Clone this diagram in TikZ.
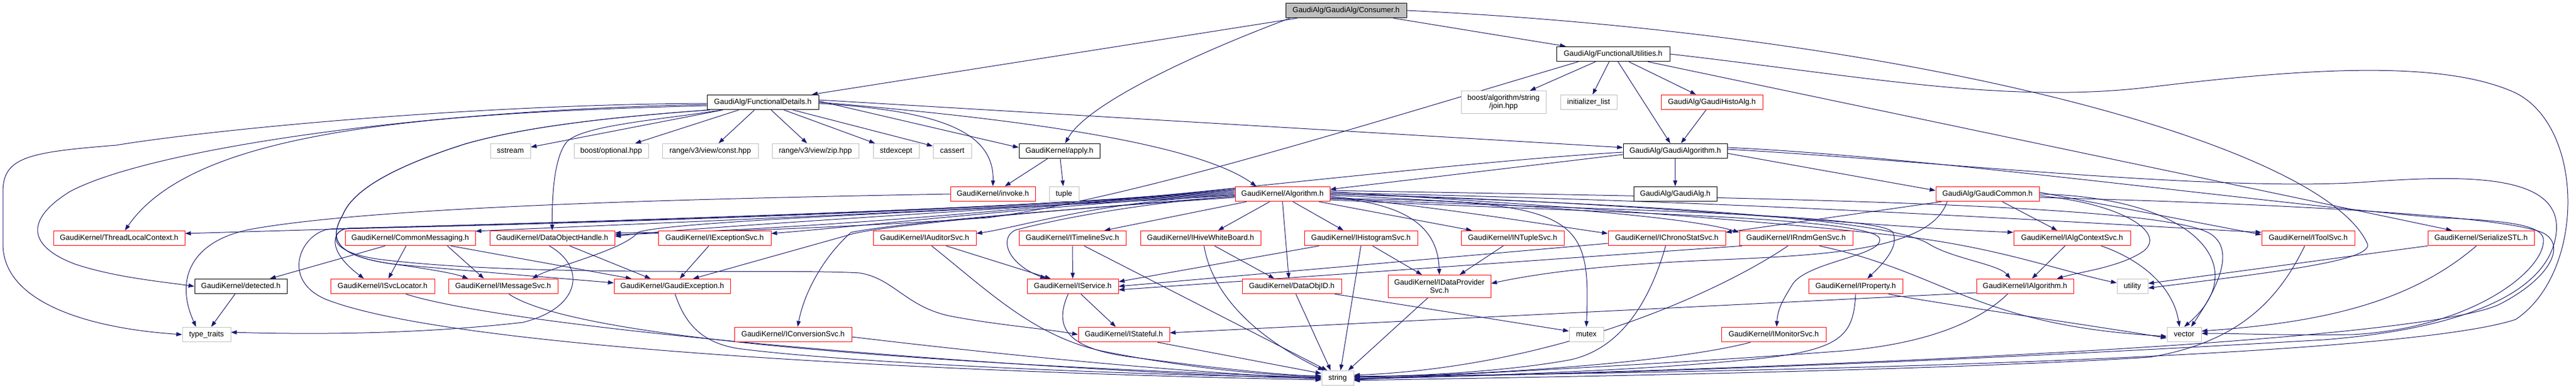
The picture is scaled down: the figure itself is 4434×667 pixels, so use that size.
\documentclass[tikz,border=0pt]{standalone}
\usepackage{fontspec}
\setmainfont{Liberation Sans}
\usetikzlibrary{arrows.meta}
\definecolor{navy}{HTML}{191970}
\definecolor{greyb}{HTML}{BFBFBF}
\definecolor{redb}{HTML}{FF0000}
\pgfdeclarelayer{bg}
\pgfsetlayers{bg,main}
\newcommand\mynode[6]{\node[#2,minimum width=#5pt] (#1) at (#3,#4) {#6};}
\begin{document}
\begin{tikzpicture}[x=1pt,y=-1pt,
  bx/.style={draw,fill=white,line width=1pt,inner sep=0pt,minimum height=25.6pt,font=\fontsize{13}{14}\selectfont,text height=9.5pt,text depth=2.7pt},
  bxx/.style={draw,fill=white,line width=1pt,inner sep=0pt,minimum height=39pt,font=\fontsize{13}{14}\selectfont,align=center},
  kbox/.style={bx,draw=black},
  cbox/.style={bx,draw=black,fill=greyb},
  rbox/.style={bx,draw=redb},
  gbox/.style={bx,draw=greyb},
  edg/.style={draw=navy,line width=1pt,-{Triangle[length=10pt,width=7pt]}},
]
\useasboundingbox (0,0) rectangle (4434,667);
% row 0-1
\mynode{consumer}{cbox}{2317}{18}{208}{GaudiAlg/GaudiAlg/Consumer.h}
\mynode{futil}{kbox}{2776.5}{93}{195}{GaudiAlg/FunctionalUtilities.h}
% row 2
\mynode{fdet}{kbox}{1313}{176}{192}{GaudiAlg/FunctionalDetails.h}
\node[bxx,draw=greyb,minimum width=146pt] (join) at (2588,176) {boost/algorithm/string\\/join.hpp};
\mynode{initl}{gbox}{2734.5}{176}{97}{initializer\_list}
\mynode{histo}{rbox}{2946.5}{176}{175}{GaudiAlg/GaudiHistoAlg.h}
% row 3
\mynode{sstream}{gbox}{878.5}{260}{69}{sstream}
\mynode{optional}{gbox}{1052}{260}{128}{boost/optional.hpp}
\mynode{rconst}{gbox}{1222.5}{260}{165}{range/v3/view/const.hpp}
\mynode{rzip}{gbox}{1403.5}{260}{149}{range/v3/view/zip.hpp}
\mynode{stdexcept}{gbox}{1542.5}{260}{79}{stdexcept}
\mynode{cassert}{gbox}{1639}{260}{66}{cassert}
\mynode{apply}{kbox}{1823.5}{260}{139}{GaudiKernel/apply.h}
\mynode{galgo}{kbox}{2883.5}{260}{179}{GaudiAlg/GaudiAlgorithm.h}
% row 4
\mynode{invoke}{rbox}{1709}{334}{146}{GaudiKernel/invoke.h}
\mynode{tuple}{gbox}{1831.5}{334}{51}{tuple}
\mynode{algorithm}{rbox}{2207.5}{334}{163}{GaudiKernel/Algorithm.h}
\mynode{galg}{kbox}{2883.5}{334}{143}{GaudiAlg/GaudiAlg.h}
\mynode{gcommon}{rbox}{3421}{334}{178}{GaudiAlg/GaudiCommon.h}
% row 5
\mynode{tlc}{rbox}{205}{410}{226}{GaudiKernel/ThreadLocalContext.h}
\mynode{cmsg}{rbox}{706}{410}{224}{GaudiKernel/CommonMessaging.h}
\mynode{doh}{rbox}{950.5}{410}{215}{GaudiKernel/DataObjectHandle.h}
\mynode{iexc}{rbox}{1230}{410}{194}{GaudiKernel/IExceptionSvc.h}
\mynode{iaud}{rbox}{1591.5}{410}{177}{GaudiKernel/IAuditorSvc.h}
\mynode{itime}{rbox}{1846}{410}{184}{GaudiKernel/ITimelineSvc.h}
\mynode{ihive}{rbox}{2066.5}{410}{207}{GaudiKernel/IHiveWhiteBoard.h}
\mynode{ihist}{rbox}{2342.5}{410}{195}{GaudiKernel/IHistogramSvc.h}
\mynode{intuple}{rbox}{2603.5}{410}{177}{GaudiKernel/INTupleSvc.h}
\mynode{ichrono}{rbox}{2869}{410}{202}{GaudiKernel/IChronoStatSvc.h}
\mynode{irndm}{rbox}{3091.5}{410}{195}{GaudiKernel/IRndmGenSvc.h}
\mynode{ialgctx}{rbox}{3566.5}{410}{201}{GaudiKernel/IAlgContextSvc.h}
\mynode{itool}{rbox}{3973}{410}{160}{GaudiKernel/IToolSvc.h}
\mynode{serial}{rbox}{4270.5}{410}{183}{GaudiKernel/SerializeSTL.h}
% row 6
\mynode{detected}{kbox}{414.5}{493}{159}{GaudiKernel/detected.h}
\mynode{isvcloc}{rbox}{658.5}{493}{179}{GaudiKernel/ISvcLocator.h}
\mynode{imsg}{rbox}{866}{493}{188}{GaudiKernel/IMessageSvc.h}
\mynode{gexc}{rbox}{1157}{493}{200}{GaudiKernel/GaudiException.h}
\mynode{iservice}{rbox}{1846.5}{493}{157}{GaudiKernel/IService.h}
\mynode{dataobjid}{rbox}{2223.5}{493}{171}{GaudiKernel/DataObjID.h}
\node[bxx,draw=redb,minimum width=177pt] (idp) at (2477.5,493) {GaudiKernel/IDataProvider\\Svc.h};
\mynode{iprop}{rbox}{3194}{493}{162}{GaudiKernel/IProperty.h}
\mynode{ialgorithm}{rbox}{3485.5}{493}{167}{GaudiKernel/IAlgorithm.h}
\mynode{utility}{gbox}{3670.5}{493}{53}{utility}
% row 7
\mynode{typetraits}{gbox}{355.5}{576}{83}{type\_traits}
\mynode{iconv}{rbox}{1365}{576}{202}{GaudiKernel/IConversionSvc.h}
\mynode{istateful}{rbox}{1934.5}{576}{157}{GaudiKernel/IStateful.h}
\mynode{mutex}{gbox}{2730.5}{576}{59}{mutex}
\mynode{imonitor}{rbox}{3053}{576}{180}{GaudiKernel/IMonitorSvc.h}
\mynode{vector}{gbox}{3759.5}{576}{59}{vector}
% row 8
\mynode{string}{gbox}{2302.5}{651}{55}{string}

\begin{pgfonlayer}{bg}
% Consumer
\draw[edg] (consumer) -- (fdet);
\draw[edg] (consumer) -- (futil);
\draw[edg] ([xshift=8pt]consumer.south west) .. controls (2050,95) and (1870,180) .. ([xshift=10pt]apply.north);
\draw[edg] (consumer.east) .. controls (3300,60) and (4000,250) .. (4075,420) .. controls (4085,450) and (3900,470) .. ([yshift=-3pt]utility.east);
% FunctionalUtilities
\draw[edg] (futil) -- (join);
\draw[edg] (futil) -- (initl);
\draw[edg] (futil) -- (histo);
\draw[edg] (futil) -- (galgo);
\draw[edg] ([xshift=-60pt]futil.south) .. controls (2300,230) and (1950,340) .. (1700,375) .. controls (1400,395) and (1200,400) .. ([yshift=9pt]doh.east);
\draw[edg] ([xshift=60pt]futil.south) -- ([xshift=-50pt]serial.north);
\draw[edg] (futil.east) .. controls (3200,130) and (3450,180) .. (3700,150) .. controls (3950,120) and (4200,100) .. (4330,160) .. controls (4450,220) and (4450,470) .. (4330,550) .. controls (4150,610) and (3200,640) .. ([yshift=3pt]string.east);
\draw[edg] (histo) -- (galgo);
% FunctionalDetails
\draw[edg] ([yshift=-2pt]fdet.west) .. controls (800,180) and (350,225) .. (200,250) .. controls (50,262) and (5,270) .. (5,330) -- (5,420) .. controls (5,520) and (150,565) .. (typetraits.west);
\draw[edg] ([yshift=-4pt]fdet.west) .. controls (700,190) and (250,260) .. (120,330) .. controls (40,380) and (50,425) .. (130,455) .. controls (200,478) and (280,485) .. (detected.west);
\draw[edg] ([yshift=-6pt]fdet.west) .. controls (700,195) and (330,230) .. ([xshift=10pt]tlc.north);
\draw[edg] (fdet) -- (sstream);
\draw[edg] (fdet) -- (optional);
\draw[edg] (fdet) -- (rconst);
\draw[edg] (fdet) -- (rzip);
\draw[edg] (fdet) -- (stdexcept);
\draw[edg] (fdet) -- (cassert);
\draw[edg] ([yshift=2pt]fdet.east) -- ([yshift=6pt]apply.west);
\draw[edg] ([yshift=-2pt]fdet.east) .. controls (1600,190) and (1712,220) .. (invoke.north);
\draw[edg] ([yshift=0pt]fdet.east) .. controls (1700,200) and (2050,240) .. ([xshift=-45pt]algorithm.north);
\draw[edg] ([yshift=4pt]fdet.east) -- ([yshift=6pt]galgo.west);
\draw[edg] ([xshift=25pt]fdet.south west) .. controls (1150,205) and (1000,215) .. (975,245) .. controls (955,270) and (950,330) .. (doh.north);
\draw[edg] ([xshift=5pt]fdet.south west) .. controls (1000,205) and (880,225) .. (800,248) .. controls (700,280) and (610,320) .. (590,370) .. controls (570,405) and (565,440) .. (680,455) .. controls (850,470) and (950,478) .. ([yshift=6pt]gexc.west);
\draw[edg] ([xshift=5pt]fdet.south west) .. controls (1000,205) and (880,225) .. (800,248) .. controls (700,280) and (610,320) .. (590,370) .. controls (570,405) and (565,440) .. (680,455) .. controls (730,462) and (780,470) .. ([xshift=-60pt]imsg.north);
% apply, invoke
\draw[edg] (apply) -- (invoke);
\draw[edg] (apply) -- (tuple);
\draw[edg] (invoke.west) .. controls (1200,342) and (650,355) .. (430,395) .. controls (330,415) and (300,480) .. ([xshift=-18pt]typetraits.north);
% GaudiAlgorithm
\draw[edg] (galgo) -- (galg);
\draw[edg] ([yshift=-4pt]galgo.east) -- ([yshift=6pt]gcommon.west);
\draw[edg] ([yshift=-6pt]galgo.west) -- ([yshift=8pt]algorithm.east);
\draw[edg] ([yshift=-2pt]galgo.west) .. controls (2400,285) and (1700,385) .. ([yshift=6pt]doh.east);
\draw[edg] ([yshift=3pt]galgo.east) .. controls (3300,275) and (3800,330) .. (4064,314) .. controls (4250,300) and (4410,300) .. (4400,400) .. controls (4390,500) and (4250,565) .. (4000,585) .. controls (3400,620) and (2800,645) .. ([yshift=1pt]string.east);
\draw[edg] ([yshift=6pt]galgo.east) .. controls (3300,268) and (3900,350) .. (4200,375) .. controls (4330,380) and (4380,390) .. (4378,415) .. controls (4376,470) and (4250,565) .. (4050,576) .. controls (3950,578) and (3850,574) .. ([yshift=2pt]vector.east);
% GaudiCommon
\draw[edg] (gcommon) -- (ialgctx);
\draw[edg] ([yshift=-3pt]gcommon.east) .. controls (3650,350) and (3730,400) .. (3690,432) .. controls (3650,460) and (3580,468) .. ([xshift=55pt]ialgorithm.north);
\draw[edg] ([yshift=3pt]gcommon.east) -- ([yshift=6pt]itool.west);
\draw[edg] (gcommon.east) .. controls (3780,340) and (3880,460) .. (vector.north);
\draw[edg] ([xshift=10pt]gcommon.south west) -- ([yshift=10pt]ichrono.east);
\draw[edg] ([xshift=20pt]gcommon.south west) .. controls (3320,440) and (3100,440) .. (2900,450) .. controls (2750,458) and (2650,470) .. ([yshift=5pt]idp.east);
\draw[edg] ([yshift=-6pt]gcommon.east) .. controls (3900,350) and (4300,370) .. (4375,400) .. controls (4420,420) and (4390,480) .. (4300,525) .. controls (4150,590) and (3100,635) .. ([yshift=-1pt]string.east);
% Algorithm
\draw[edg] ([yshift=6pt]algorithm.west) .. controls (1800,360) and (900,385) .. ([yshift=8pt]tlc.east);
\draw[edg] ([yshift=4pt]algorithm.west) .. controls (1800,358) and (1100,385) .. ([yshift=12pt]cmsg.east);
\draw[edg] ([yshift=2pt]algorithm.west) .. controls (1800,356) and (1200,390) .. ([yshift=3pt]doh.east);
\draw[edg] (algorithm.west) .. controls (1800,354) and (1500,388) .. ([yshift=8pt]iexc.east);
\draw[edg] ([yshift=-2pt]algorithm.west) .. controls (1900,345) and (1760,390) .. ([yshift=8pt]iaud.east);
\draw[edg] ([xshift=20pt]algorithm.south west) -- ([xshift=55pt]itime.north);
\draw[edg] ([xshift=60pt]algorithm.south west) -- ([xshift=30pt]ihive.north);
\draw[edg] ([xshift=100pt]algorithm.south west) -- ([xshift=-30pt]ihist.north);
\draw[edg] ([xshift=145pt]algorithm.south west) -- ([xshift=-70pt]intuple.north);
\draw[edg] ([yshift=-6pt]algorithm.east) .. controls (2420,350) and (2475,390) .. (idp.north);
\draw[edg] ([yshift=-4pt]algorithm.east) .. controls (2500,360) and (2650,385) .. ([yshift=8pt]ichrono.west);
\draw[edg] ([yshift=-2pt]algorithm.east) .. controls (2600,350) and (2900,372) .. ([yshift=10pt]irndm.west);
\draw[edg] (algorithm.east) .. controls (2800,345) and (3200,390) .. ([yshift=10pt]ialgctx.west);
\draw[edg] ([yshift=2pt]algorithm.east) .. controls (3000,345) and (3600,385) .. ([yshift=10pt]itool.west);
\draw[edg] (algorithm.south) -- ([xshift=-5pt]dataobjid.north);
\draw[edg] ([yshift=-8pt]algorithm.east) .. controls (2720,345) and (2738,370) .. (mutex.north);
\draw[edg] ([yshift=-6pt]algorithm.west) .. controls (1800,362) and (1540,385) .. (1465,400) .. controls (1420,440) and (1385,500) .. ([xshift=8pt]iconv.north);
\draw[edg] ([yshift=-10pt]algorithm.east) .. controls (2700,365) and (3215,372) .. (3235,410) .. controls (3245,440) and (3110,450) .. (3085,490) .. controls (3070,515) and (3060,530) .. ([xshift=5pt]imonitor.north);
\draw[edg] ([yshift=-8pt]algorithm.east) .. controls (2700,360) and (3240,368) .. (3258,400) .. controls (3270,425) and (3240,455) .. ([xshift=20pt]iprop.north);
\draw[edg] ([yshift=4pt]algorithm.east) .. controls (2700,355) and (3100,385) .. (3300,410) .. controls (3450,430) and (3560,470) .. ([yshift=6pt]utility.west);
\draw[edg] ([yshift=6pt]algorithm.east) .. controls (3000,340) and (3700,350) .. (3800,400) .. controls (3860,430) and (3800,520) .. ([xshift=12pt]vector.north);
\draw[edg] (algorithm.east) .. controls (2800,350) and (3250,375) .. (3320,420) .. controls (3360,445) and (3440,455) .. ([xshift=-25pt]ialgorithm.north);
\draw[edg] ([yshift=-4pt]algorithm.west) .. controls (1950,350) and (1800,382) .. (1748,396) .. controls (1718,410) and (1735,455) .. ([xshift=-46pt]iservice.north);
\draw[edg] ([yshift=-2pt]algorithm.west) .. controls (1800,358) and (1160,378) .. (1098,400) .. controls (1075,430) and (950,460) .. ([xshift=50pt]imsg.north);
\draw[edg] ([yshift=-4pt]algorithm.west) .. controls (1900,355) and (1540,385) .. (1470,402) -- ([xshift=36pt]gexc.north);
\draw[edg] ([yshift=8pt]algorithm.west) .. controls (1800,362) and (800,388) .. (600,393) .. controls (572,395) and (560,430) .. ([xshift=-32pt]isvcloc.north);
\draw[edg] ([yshift=10pt]algorithm.west) .. controls (1800,364) and (800,390) .. (570,394) .. controls (520,398) and (480,480) .. (560,515) .. controls (800,610) and (1800,645) .. ([yshift=-3pt]string.west);
\draw[edg] ([yshift=8pt]algorithm.west) .. controls (1800,362) and (800,388) .. (600,393) .. controls (572,395) and (555,432) .. (650,446) .. controls (900,478) and (1350,462) .. (1480,470) .. controls (1540,480) and (1560,530) .. (1640,545) .. controls (1720,560) and (1800,566) .. (istateful.west);
% CommonMessaging
\draw[edg] ([xshift=-43pt]cmsg.south) -- ([xshift=-30pt]detected.north east);
\draw[edg] ([xshift=-7pt]cmsg.south) -- ([xshift=10pt]isvcloc.north);
\draw[edg] ([xshift=64pt]cmsg.south) -- ([xshift=-33pt]imsg.north);
\draw[edg] ([xshift=70pt]cmsg.south) -- ([xshift=-70pt]gexc.north);
% DataObjectHandle
\draw[edg] ([xshift=-5pt]doh.south) .. controls (1010,460) and (1000,530) .. (900,555) .. controls (700,578) and (500,575) .. ([yshift=4pt]typetraits.east);
\draw[edg] ([xshift=30pt]doh.south) -- ([xshift=-37pt]gexc.north);
\draw[edg] ([xshift=-10pt]iexc.south) -- ([xshift=13pt]gexc.north);
% IAuditorSvc, ITimelineSvc, IHiveWhiteBoard
\draw[edg] ([xshift=37pt]iaud.south) -- ([xshift=-38pt]iservice.north);
\draw[edg] ([xshift=12pt]iaud.south) .. controls (1700,500) and (1780,580) .. (1900,605) .. controls (2050,635) and (2200,648) .. ([yshift=4pt]string.west);
\draw[edg] (itime.south) -- (iservice.north);
\draw[edg] ([xshift=20pt]itime.south) -- ([xshift=-18pt]string.north);
\draw[edg] ([xshift=24pt]ihive.south) -- ([xshift=-30pt]dataobjid.north);
\draw[edg] ([xshift=6pt]ihive.south) .. controls (2085,500) and (2150,575) .. ([xshift=-24pt]string.north);
% IHistogramSvc, INTupleSvc
\draw[edg] ([xshift=-72pt]ihist.south) -- ([yshift=8pt]iservice.east);
\draw[edg] (ihist.south) -- ([xshift=5pt]string.north);
\draw[edg] ([xshift=20pt]ihist.south) -- ([xshift=-30pt]idp.north);
\draw[edg] ([xshift=-16pt]intuple.south) -- ([xshift=35pt]idp.north);
% IChronoStatSvc, IRndmGenSvc
\draw[edg] ([xshift=-2pt]ichrono.south) .. controls (2845,500) and (2800,600) .. (2700,620) .. controls (2600,638) and (2450,648) .. ([yshift=3pt]string.east);
\draw[edg] ([yshift=-9pt]ichrono.west) -- (iservice.east);
\draw[edg] ([xshift=-14pt]irndm.south) .. controls (2980,490) and (2700,630) .. ([yshift=5pt]string.east);
\draw[edg] ([xshift=5pt]irndm.south west) -- ([yshift=-6pt]iservice.east);
\draw[edg] ([xshift=40pt]irndm.south) .. controls (3350,470) and (3400,560) .. ([yshift=-3pt]vector.west);
% IAlgContextSvc, IToolSvc, SerializeSTL
\draw[edg] ([xshift=-12pt]ialgctx.south) -- ([xshift=12pt]ialgorithm.north);
\draw[edg] ([xshift=50pt]ialgctx.south) .. controls (3680,445) and (3740,490) .. ([xshift=-8pt]vector.north);
\draw[edg] ([xshift=-6pt]itool.south) .. controls (3920,520) and (3850,590) .. (3700,615) .. controls (3300,640) and (2600,650) .. ([yshift=-4pt]string.east);
\draw[edg] (serial.south west) -- ([yshift=5pt]utility.east);
\draw[edg] ([xshift=-8pt]serial.south) .. controls (4150,520) and (4000,555) .. ([yshift=6pt]vector.east);
% row 6 nodes
\draw[edg] ([xshift=40pt]isvcloc.south) .. controls (900,570) and (1800,640) .. ([yshift=-1pt]string.west);
\draw[edg] ([xshift=10pt]imsg.south) .. controls (1000,590) and (1700,630) .. ([yshift=1pt]string.west);
\draw[edg] ([xshift=5pt]gexc.south) .. controls (1180,560) and (1210,590) .. (1270,600) .. controls (1500,630) and (2100,650) .. ([yshift=2pt]string.west);
\draw[edg] ([yshift=-4pt]iconv.east) .. controls (1800,620) and (2100,645) .. (string.west);
\draw[edg] ([xshift=14pt]iservice.south) -- ([xshift=-14pt]istateful.north);
\draw[edg] ([xshift=-8pt]iservice.south) .. controls (1815,560) and (1830,600) .. (1950,615) .. controls (2100,635) and (2200,645) .. ([yshift=3pt]string.west);
\draw[edg] ([xshift=58pt]istateful.south) -- ([yshift=8pt]string.west);
\draw[edg] ([xshift=7pt]dataobjid.south) -- ([xshift=-12pt]string.north);
\draw[edg] ([xshift=-12pt]dataobjid.south east) -- ([yshift=6pt]mutex.west);
\draw[edg] ([xshift=-20pt]idp.south) -- ([xshift=18pt]string.north);
\draw[edg] (iprop.south) .. controls (3190,580) and (3170,605) .. (3000,620) .. controls (2800,640) and (2500,648) .. ([yshift=-2pt]string.east);
\draw[edg] ([xshift=-25pt]iprop.south east) .. controls (3350,525) and (3600,560) .. ([yshift=-6pt]vector.west);
\draw[edg] ([yshift=-11pt]ialgorithm.west) -- ([yshift=3pt]istateful.east);
\draw[edg] ([xshift=-30pt]ialgorithm.south) .. controls (3400,560) and (3300,595) .. (3160,605) .. controls (2900,625) and (2500,645) .. ([yshift=-3pt]string.east);
\draw[edg] ([xshift=-40pt]imonitor.south) .. controls (2900,620) and (2600,645) .. ([yshift=2pt]string.east);
\draw[edg] ([xshift=-10pt]detected.south) -- ([xshift=8pt]typetraits.north);
\end{pgfonlayer}
\end{tikzpicture}
\end{document}
